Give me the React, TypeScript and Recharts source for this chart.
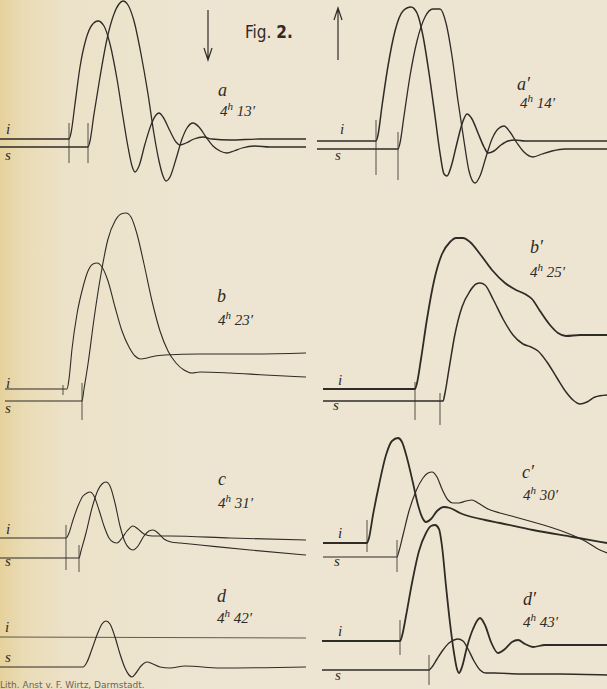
import { LineChart, Line, XAxis, YAxis } from 'recharts';

// every curve: [t, v] pairs, t in px from panel left, v = deflection above the i-baseline
type P = [number, number];
type Mark = [number, number, number]; // [t, vFrom, vTo]

const INK = '#2f2b27';
const SERIF = '"Liberation Serif", "DejaVu Serif", serif';

// a  4h 13'
const aI: P[] = [[0,0],[69,0],[71,6],[75,35],[80,72],[86,100],[92,114],[98,118],[104,113],[110,95],[117,60],[123,22],[128,-8],[132,-27],[135,-33],[139,-27],[145,-5],[151,14],[156,24],[159,26],[163,22],[170,8],[176,-3],[180,-6],[186,-4],[194,0],[203,2],[212,0],[230,-1],[260,0],[306,0]];
const aS: P[] = [[0,-8],[88,-8],[90,-2],[94,25],[100,62],[107,100],[114,125],[119,135],[123,138],[128,134],[134,118],[141,85],[148,45],[154,5],[159,-22],[163,-37],[166,-42],[170,-38],[176,-20],[182,0],[187,11],[193,16],[199,12],[206,2],[213,-7],[220,-12],[227,-14],[234,-12],[242,-9],[255,-7],[270,-8],[306,-8]];
const aMarks: Mark[] = [[69,16,-24],[88,16,-24]];

// a'  4h 14'
const apI: P[] = [[17,0],[76,0],[78,6],[82,35],[88,75],[95,110],[103,130],[111,134],[117,128],[123,105],[129,68],[135,25],[140,-12],[144,-33],[147,-35],[151,-26],[157,-2],[162,17],[167,27],[172,22],[178,8],[184,-6],[188,-12],[194,-10],[201,-4],[208,0],[215,1],[225,0],[307,0]];
const apS: P[] = [[17,-8],[98,-8],[100,-2],[104,25],[110,65],[117,100],[125,124],[133,132],[140,132],[146,118],[152,85],[158,40],[164,0],[169,-30],[175,-42],[180,-35],[186,-16],[192,2],[198,12],[204,15],[210,9],[217,-2],[224,-11],[233,-16],[242,-13],[252,-10],[265,-8],[307,-8]];
const apMarks: Mark[] = [[76,21,-34],[98,9,-39]];

// b  4h 23'
const bI: P[] = [[5,0],[67,0],[69,10],[72,40],[77,75],[83,102],[88,118],[93,125],[97,126],[102,122],[108,108],[115,82],[122,58],[129,42],[135,33],[141,30],[147,31],[155,33],[165,34],[200,35],[250,35],[306,36]];
const bS: P[] = [[5,-12],[82,-12],[84,0],[88,25],[94,70],[101,115],[108,150],[115,168],[121,175],[126,176],[131,172],[137,155],[144,125],[152,88],[160,58],[168,38],[176,26],[184,19],[192,16],[200,17],[230,16],[265,14],[306,12]];
const bMarks: Mark[] = [[63,4,-6],[82,6,-31]];

// b'  4h 25'
const bpI: P[] = [[23,0],[115,0],[117,6],[121,30],[127,70],[134,108],[142,135],[150,147],[156,151],[163,151],[170,147],[180,135],[192,119],[205,106],[216,99],[225,95],[232,90],[240,78],[250,64],[258,56],[266,53],[280,54],[307,54]];
const bpS: P[] = [[23,-12],[143,-12],[145,-4],[149,20],[155,55],[162,82],[170,98],[176,105],[180,106],[185,104],[193,90],[203,70],[213,54],[223,45],[231,42],[238,38],[247,27],[257,11],[266,-3],[273,-11],[280,-15],[287,-13],[295,-8],[307,-6]];
const bpMarks: Mark[] = [[115,7,-31],[140,-4,-36]];

// c  4h 31'
const cI: P[] = [[0,0],[66,0],[69,5],[73,18],[78,32],[83,42],[87,45],[90,46],[94,42],[99,28],[104,12],[109,0],[113,-4],[117,-5],[122,0],[127,7],[133,12],[138,9],[144,4],[152,2],[170,2],[230,0],[306,-2]];
const cS: P[] = [[0,-20],[79,-20],[81,-13],[86,5],[92,30],[98,48],[102,54],[106,56],[110,52],[115,35],[120,12],[125,-4],[129,-10],[133,-12],[138,-8],[144,2],[149,7],[153,8],[158,5],[164,-1],[171,-4],[180,-5],[200,-7],[250,-12],[306,-17]];
const cMarks: Mark[] = [[66,13,-32],[79,-7,-34]];

// c'  4h 30'
const cpI: P[] = [[23,0],[67,0],[69,5],[73,28],[79,58],[86,88],[92,102],[98,105],[102,101],[107,85],[113,60],[118,38],[122,26],[126,21],[131,24],[137,32],[144,36],[150,35],[160,30],[172,26],[185,23],[200,20],[233,13],[273,6],[307,0]];
const cpS: P[] = [[23,-14],[97,-14],[99,-8],[103,8],[109,32],[116,52],[123,65],[128,70],[132,71],[137,66],[142,54],[148,43],[153,40],[159,40],[166,42],[172,43],[178,40],[188,34],[200,30],[215,26],[233,21],[250,16],[267,10],[285,2],[300,-7],[307,-10]];
const cpMarks: Mark[] = [[67,23,-9],[97,3,-29]];

// d  4h 42'
const dI: P[] = [[0,0],[306,-1]];
const dS: P[] = [[0,-30],[83,-30],[87,-25],[92,-12],[97,2],[102,13],[106,16],[110,13],[115,0],[120,-17],[125,-31],[129,-38],[132,-40],[136,-36],[141,-29],[147,-25],[153,-27],[160,-30],[170,-31],[185,-29],[220,-31],[306,-30]];

// d'  4h 43'
const dpI: P[] = [[22,0],[100,0],[102,5],[106,25],[112,58],[119,90],[126,108],[131,115],[135,116],[139,112],[142,95],[146,55],[150,18],[154,-12],[157,-28],[159,-32],[162,-26],[167,-6],[173,12],[180,23],[185,16],[191,-1],[198,-12],[205,-8],[212,-1],[218,1],[225,-3],[233,-6],[245,-4],[260,-4],[307,-4]];
const dpS: P[] = [[22,-29],[129,-29],[132,-26],[137,-18],[143,-9],[149,-2],[154,1],[158,2],[163,0],[168,-8],[174,-20],[180,-29],[186,-32],[195,-32],[220,-33],[260,-33],[307,-34]];
const dpMarks: Mark[] = [[100,21,-14],[129,-14,-44]];

const toRows = (pts: P[]) => pts.map(([t, v]) => ({ t, v }));

interface Curve { pts: P[]; w?: number; op?: number }
interface PanelProps {
  left: number; top: number; width: number; height: number; vTop: number;
  curves: Curve[]; marks?: Mark[];
}

function Panel({ left, top, width, height, vTop, curves, marks = [] }: PanelProps) {
  return (
    <div style={{ position: 'absolute', left, top }}>
      <LineChart width={width} height={height} margin={{ top: 0, right: 0, bottom: 0, left: 0 }}>
        <XAxis type="number" dataKey="t" domain={[0, width]} allowDataOverflow hide />
        <YAxis type="number" dataKey="v" domain={[vTop - height, vTop]} allowDataOverflow hide />
        {curves.map((c, i) => (
          <Line key={'c' + i} data={toRows(c.pts)} dataKey="v" type="monotone" dot={false} activeDot={false}
            stroke={INK} strokeWidth={c.w ?? 1.3} strokeOpacity={c.op ?? 1} isAnimationActive={false} />
        ))}
        {marks.map(([t, a, b], i) => (
          <Line key={'m' + i} data={[{ t, v: a }, { t, v: b }]} dataKey="v" type="linear" dot={false} activeDot={false}
            stroke={INK} strokeWidth={1} strokeOpacity={0.8} isAnimationActive={false} />
        ))}
      </LineChart>
    </div>
  );
}

function Time({ x, y, h, m }: { x: number; y: number; h: string; m: string }) {
  return (
    <text x={x} y={y} fontFamily={SERIF} fontStyle="italic" fontSize={15} fill={INK}>
      {h}<tspan dy={-6} fontSize={11}>h</tspan><tspan dy={6}>{' ' + m}</tspan>
    </text>
  );
}

function Lab({ x, y, t, size = 15 }: { x: number; y: number; t: string; size?: number }) {
  return <text x={x} y={y} fontFamily={SERIF} fontStyle="italic" fontSize={size} fill={INK}>{t}</text>;
}

export default function App() {
  return (
    <div style={{
      position: 'fixed', left: 0, top: 0, width: 607, height: 689, overflow: 'hidden',
      background: 'linear-gradient(to right, #e6d19c 0px, #eadcb6 25px, #ece2c9 70px, #ede5d1 200px)',
    }}>
      <Panel left={0} top={0} width={306} height={195} vTop={139} curves={[{ pts: aI }, { pts: aS }]} marks={aMarks} />
      <Panel left={300} top={0} width={307} height={195} vTop={141} curves={[{ pts: apI, w: 1.5 }, { pts: apS }]} marks={apMarks} />
      <Panel left={0} top={190} width={306} height={240} vTop={199} curves={[{ pts: bI, w: 1.1 }, { pts: bS, w: 1.1 }]} marks={bMarks} />
      <Panel left={300} top={190} width={307} height={240} vTop={199} curves={[{ pts: bpI, w: 1.8 }, { pts: bpS, w: 1.5 }]} marks={bpMarks} />
      <Panel left={0} top={440} width={306} height={140} vTop={98} curves={[{ pts: cI, w: 1.1 }, { pts: cS, w: 1.1 }]} marks={cMarks} />
      <Panel left={300} top={420} width={307} height={160} vTop={123} curves={[{ pts: cpI, w: 1.8 }, { pts: cpS, w: 1.2 }]} marks={cpMarks} />
      <Panel left={0} top={580} width={306} height={109} vTop={57} curves={[{ pts: dI, w: 1, op: 0.75 }, { pts: dS, w: 1.2 }]} />
      <Panel left={300} top={490} width={307} height={199} vTop={151} curves={[{ pts: dpI, w: 1.8 }, { pts: dpS, w: 1.4 }]} marks={dpMarks} />

      <svg width={607} height={689} style={{ position: 'absolute', left: 0, top: 0, pointerEvents: 'none' }}>
        <text x={245} y={38} fontFamily='"DejaVu Sans", sans-serif' fontSize={17} fill={INK} style={{ fontStretch: 'condensed' }}>
          Fig. <tspan fontWeight={700}>2.</tspan>
        </text>
        {/* arrows */}
        <g stroke={INK} strokeWidth={1.2} fill="none">
          <path d="M208 10 L208 60 M204 48 L208 60 L212 48" />
          <path d="M338 60 L338 8 M334 20 L338 8 L342 20" />
        </g>

        <Lab x={6} y={134} t="i" /><Lab x={5} y={160} t="s" />
        <Lab x={218} y={96} t="a" size={18} /><Time x={220} y={116} h="4" m="13′" />

        <Lab x={340} y={134} t="i" /><Lab x={335} y={160} t="s" />
        <Lab x={517} y={90} t="a′" size={18} /><Time x={520} y={108} h="4" m="14′" />

        <Lab x={6} y={388} t="i" /><Lab x={5} y={413} t="s" />
        <Lab x={217} y={302} t="b" size={18} /><Time x={218} y={325} h="4" m="23′" />

        <Lab x={338} y={385} t="i" /><Lab x={333} y={410} t="s" />
        <Lab x={530} y={253} t="b′" size={18} /><Time x={530} y={277} h="4" m="25′" />

        <Lab x={6} y={534} t="i" /><Lab x={5} y={566} t="s" />
        <Lab x={218} y={485} t="c" size={18} /><Time x={218} y={508} h="4" m="31′" />

        <Lab x={338} y={538} t="i" /><Lab x={334} y={566} t="s" />
        <Lab x={522} y={478} t="c′" size={18} /><Time x={523} y={500} h="4" m="30′" />

        <Lab x={5} y={632} t="i" /><Lab x={5} y={662} t="s" />
        <Lab x={217} y={602} t="d" size={18} /><Time x={217} y={623} h="4" m="42′" />

        <Lab x={338} y={636} t="i" /><Lab x={335} y={680} t="s" />
        <Lab x={523} y={605} t="d′" size={18} /><Time x={523} y={627} h="4" m="43′" />

        <text x={0} y={688} fontFamily='"DejaVu Sans", sans-serif' fontSize={9} fill="#6a645c">
          Lith. Anst v. F. Wirtz, Darmstadt.
        </text>
      </svg>
    </div>
  );
}
